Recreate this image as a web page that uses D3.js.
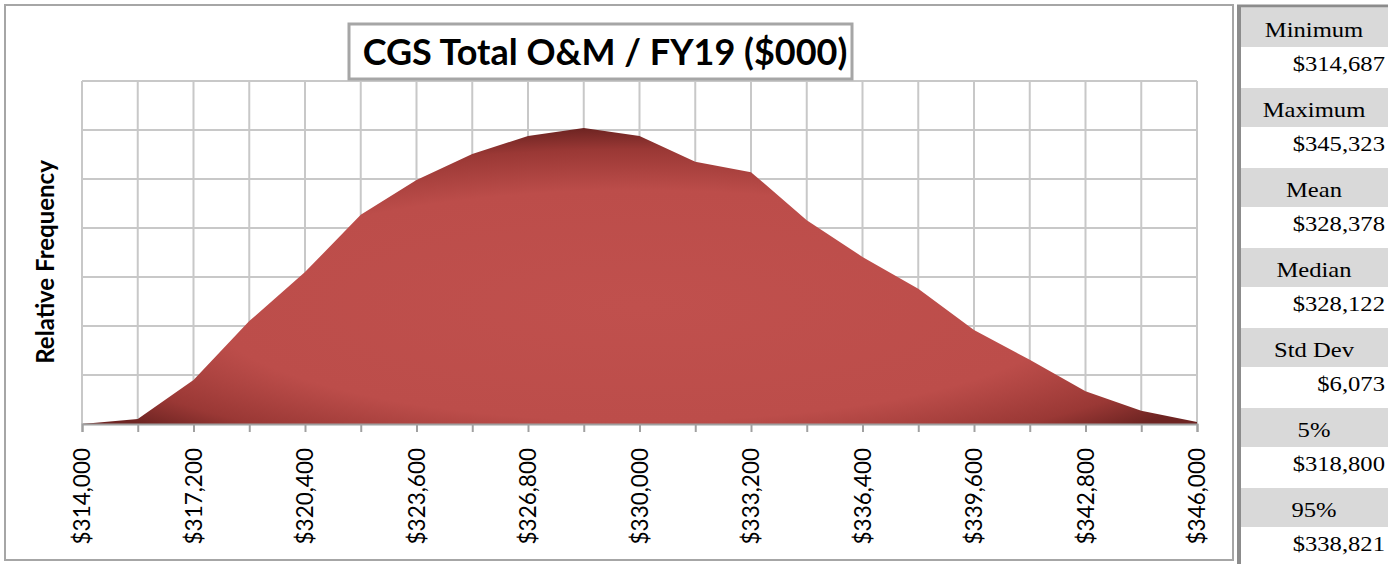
<!DOCTYPE html>
<html>
<head>
<meta charset="utf-8">
<script src="https://cdn.jsdelivr.net/npm/d3@7"></script>
<style>
  body { margin: 0; background: #fff; }
  svg { display: block; }
</style>
</head>
<body>
<div id="chart"></div>
<script>
var wt = 1395;
var ht = 564;

// histogram bins (bin edge, relative frequency)
var binEdges = [314000, 315600, 317200, 318800, 320400, 322000, 323600, 325200, 326800, 328400,
    330000, 331600, 333200, 334800, 336400, 338000, 339600, 341200, 342800, 344400, 346000];
var relFreq = [0, 0.0010, 0.0090, 0.0210, 0.0310, 0.0427, 0.0498, 0.0551, 0.0588, 0.0604,
    0.0588, 0.0535, 0.0514, 0.0416, 0.0341, 0.0276, 0.0192, 0.0131, 0.0067, 0.0027, 0.0004];
var yTicks = [0, 0.01, 0.02, 0.03, 0.04, 0.05, 0.06, 0.07];

var statLabels = ["Minimum", "Maximum", "Mean", "Median", "Std Dev", "5%", "95%"];
var statValues = ["$314,687", "$345,323", "$328,378", "$328,122", "$6,073", "$318,800", "$338,821"];

var titleText = "CGS Total O&M / FY19 ($000)";

var margin = { top: 81, left: 82 };
var plotW = 1197 - 82;
var plotH = 424 - 81;

var svg = d3.select("#chart").append("svg")
    .attr("width", wt)
    .attr("height", ht);

var defs = svg.append("defs");
var grad = defs.append("radialGradient")
    .attr("id", "fillGrad")
    .attr("cx", "0.5").attr("cy", "0.6")
    .attr("r", "0.6");
grad.append("stop").attr("offset", "0%").attr("stop-color", "#c0504d");
grad.append("stop").attr("offset", "65%").attr("stop-color", "#bc4d4a");
grad.append("stop").attr("offset", "88%").attr("stop-color", "#9a3835");
grad.append("stop").attr("offset", "100%").attr("stop-color", "#6e2422");

// outer chart frame
svg.append("rect")
    .attr("x", 5).attr("y", 5)
    .attr("width", 1228).attr("height", 555)
    .attr("fill", "#fff")
    .attr("stroke", "#a6a6a6")
    .attr("stroke-width", 2);

var g = svg.append("g")
    .attr("transform", "translate(" + margin.left + "," + margin.top + ")");

var x = d3.scaleLinear()
    .domain([314000, 346000])
    .range([0, plotW]);

var y = d3.scaleLinear()
    .domain([0, 0.07])
    .range([plotH, 0]);

// gridlines
g.selectAll(".vgrid")
    .data(binEdges)
    .enter().append("line")
    .attr("class", "vgrid")
    .attr("x1", function (d) { return x(d); })
    .attr("x2", function (d) { return x(d); })
    .attr("y1", 0).attr("y2", plotH)
    .attr("stroke", "#c8c8c8")
    .attr("stroke-width", 2);

g.selectAll(".hgrid")
    .data(yTicks)
    .enter().append("line")
    .attr("class", "hgrid")
    .attr("x1", 0).attr("x2", plotW)
    .attr("y1", function (d) { return y(d); })
    .attr("y2", function (d) { return y(d); })
    .attr("stroke", "#c8c8c8")
    .attr("stroke-width", 2);

var area = d3.area()
    .x(function (d, i) { return x(binEdges[i]); })
    .y0(plotH)
    .y1(function (d) { return y(d); });

g.append("path")
    .datum(relFreq)
    .attr("d", area)
    .attr("fill", "url(#fillGrad)");

// x axis
var xAxis = d3.axisBottom(x)
    .tickValues(binEdges)
    .tickSize(8)
    .tickFormat(function (d, i) { return i % 2 === 0 ? "$" + d3.format(",")(d) : ""; });

var ax = g.append("g")
    .attr("class", "axis axis--x")
    .attr("transform", "translate(0," + plotH + ")")
    .call(xAxis);

ax.select(".domain").attr("stroke", "#a0a0a0").attr("stroke-width", 2);
ax.selectAll(".tick line").attr("stroke", "#a0a0a0").attr("stroke-width", 2);
ax.selectAll(".tick text")
    .attr("fill", "#000")
    .style("font-family", "Lato, 'Open Sans', sans-serif")
    .style("font-size", "22.5px")
    .attr("text-anchor", "end")
    .attr("transform", "rotate(-90)")
    .attr("x", -24)
    .attr("y", 0)
    .attr("dy", "0.35em");

// y axis label
svg.append("text")
    .attr("transform", "translate(54,262) rotate(-90)")
    .attr("text-anchor", "middle")
    .style("font-family", "Lato, 'Open Sans', sans-serif")
    .style("font-weight", "bold")
    .style("font-size", "24px")
    .text("Relative Frequency");

// title box
svg.append("rect")
    .attr("x", 349).attr("y", 24)
    .attr("width", 503).attr("height", 55)
    .attr("fill", "#fff")
    .attr("stroke", "#a6a6a6")
    .attr("stroke-width", 3);

svg.append("text")
    .attr("x", 605).attr("y", 65)
    .attr("text-anchor", "middle")
    .style("font-family", "Lato, 'Open Sans', sans-serif")
    .style("font-weight", "bold")
    .style("font-size", "36px")
    .text(titleText);

// stats panel
var panel = svg.append("g").attr("class", "stats");
var rowY = d3.scaleLinear().domain([0, 1]).range([8, 88]);

panel.selectAll(".band")
    .data(statLabels)
    .enter().append("rect")
    .attr("class", "band")
    .attr("x", 1240).attr("width", 148)
    .attr("y", function (d, i) { return rowY(i); })
    .attr("height", 39)
    .attr("fill", "#d9d9d9");

panel.selectAll(".lbl")
    .data(statLabels)
    .enter().append("text")
    .attr("class", "lbl")
    .attr("transform", function (d, i) { return "translate(1314," + (rowY(i) + 29) + ") scale(1.12,1)"; })
    .attr("text-anchor", "middle")
    .style("font-family", "'Liberation Serif', 'Times New Roman', serif")
    .style("font-size", "22px")
    .text(function (d) { return d; });

panel.selectAll(".val")
    .data(statValues)
    .enter().append("text")
    .attr("class", "val")
    .attr("transform", function (d, i) { return "translate(1385," + (rowY(i) + 63) + ") scale(1.12,1)"; })
    .attr("text-anchor", "end")
    .style("font-family", "'Liberation Serif', 'Times New Roman', serif")
    .style("font-size", "22px")
    .text(function (d) { return d; });

svg.append("line")
    .attr("x1", 1239).attr("x2", 1239)
    .attr("y1", 5).attr("y2", ht)
    .attr("stroke", "#8c8c8c")
    .attr("stroke-width", 4);
svg.append("line")
    .attr("x1", 1237).attr("x2", 1388)
    .attr("y1", 6).attr("y2", 6)
    .attr("stroke", "#8c8c8c")
    .attr("stroke-width", 3);
</script>
</body>
</html>
